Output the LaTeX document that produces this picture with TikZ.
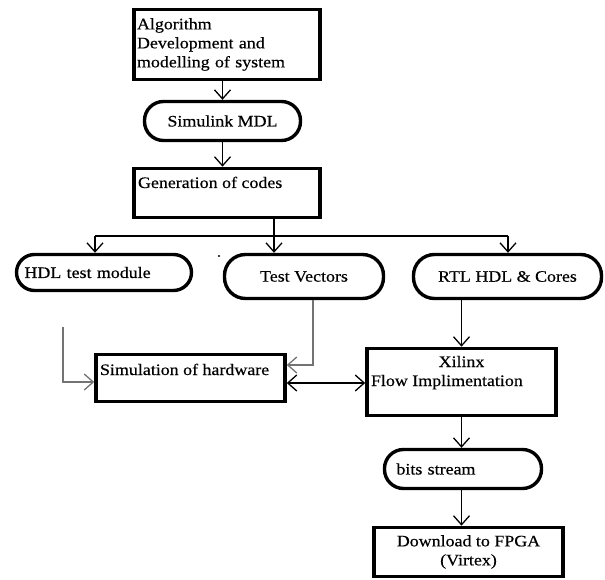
\documentclass[tikz,border=0pt]{standalone}
\usepackage{fontspec}
\setmainfont{Liberation Serif}[FakeStretch=1.12,FakeBold=0.4]
\usetikzlibrary{arrows.meta}
\begin{document}
\begin{tikzpicture}[x=1pt,y=-1pt,
  font=\fontsize{16}{19}\selectfont,
  box/.style={draw, line width=3.6pt, rectangle},
  pill/.style={draw, line width=3.4pt, rectangle},
  conn/.style={line width=1.3pt, -{Straight Barb[length=9pt,width=16pt,line width=1.3pt]}},
  dconn/.style={line width=1.3pt, {Straight Barb[length=9pt,width=16pt,line width=1.3pt]}-{Straight Barb[length=9pt,width=16pt,line width=1.3pt]}},
  plain/.style={line width=1.3pt},
  greyc/.style={draw=black!55}]
\useasboundingbox (0,0) rectangle (605,580);

\node[box, minimum width=186pt, minimum height=70pt, text width=180pt, inner xsep=3pt, align=left] (alg) at (227,44.5)
  {Algorithm\\Development and\\modelling of system};
\node[pill, rounded corners=19pt, minimum width=156pt, minimum height=39pt] (simu) at (222.5,121) {Simulink MDL};
\node[box, minimum width=186pt, minimum height=49pt, inner sep=0pt] (gen) at (227,193)
  {\parbox[c][49pt][t]{178pt}{\vspace*{6.2pt}\strut Generation of codes}};

\node[pill, rounded corners=18pt, minimum width=175pt, minimum height=36pt, text width=159pt, inner xsep=8pt, align=left] (hdl) at (104,272.5) {HDL test module};
\node[pill, rounded corners=21pt, minimum width=159pt, minimum height=44pt] (tv) at (304,276.5) {Test Vectors};
\node[pill, rounded corners=21pt, minimum width=188pt, minimum height=44pt] (rtl) at (507.5,276.5) {RTL HDL \& Cores};

\node[box, minimum width=189pt, minimum height=47pt, inner sep=0pt] (sim) at (190.5,378)
  {\parbox[c][47pt][t]{181pt}{\vspace*{7.2pt}\strut Simulation of hardware}};
\node[box, minimum width=189pt, minimum height=67pt, inner sep=0pt] (xil) at (461.5,382)
  {\parbox[c][67pt][t]{181pt}{\vspace*{5.2pt}\strut\makebox[\linewidth][c]{Xilinx}\par\strut Flow Implimentation}};

\node[pill, rounded corners=19pt, minimum width=157pt, minimum height=39pt, text width=133pt, inner xsep=12pt, align=left] (bits) at (463,469) {bits stream};
\node[box, minimum width=189pt, minimum height=49pt, align=center] (dl) at (468.5,552) {Download to FPGA\\(Virtex)};

\coordinate (bl) at (95,236);
\coordinate (bm) at (274,236);
\coordinate (brr) at (508,236);
\coordinate (hs) at (63,327);

\draw[conn] (alg.south -| simu.north) -- (simu.north);
\draw[conn] (simu.south) -- (simu.south |- gen.north);
\draw[plain] (bl) -- (brr);
\draw[conn] (gen.south -| bm) -- (tv.north -| bm);
\draw[conn] (bl) -- (bl |- hdl.north);
\draw[conn] (brr) -- (brr |- rtl.north);
\draw[conn, greyc] (hs) |- ([yshift=-4pt]sim.west);
\draw[conn, greyc] ([xshift=9pt]tv.south) |- ([yshift=13pt]sim.east);
\draw[dconn] ([yshift=-5pt]sim.east) coordinate (d1) -- (d1 -| xil.west);
\draw[conn] (rtl.south -| xil.north) -- (xil.north);
\draw[conn] (xil.south) -- (xil.south |- bits.north);
\draw[conn] (bits.south -| xil.south) -- (dl.north -| xil.south);

\fill (219,256) circle (1.2pt);
\end{tikzpicture}
\end{document}
